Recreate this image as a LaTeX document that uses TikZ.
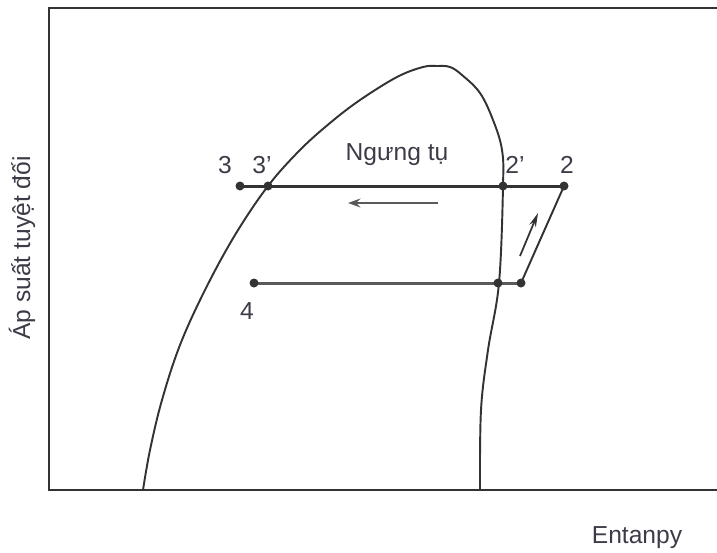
\documentclass[tikz,border=0pt]{standalone}
\usepackage{fontspec}
\setmainfont{Liberation Sans}
\usepackage{xcolor}
\usetikzlibrary{arrows.meta}
\definecolor{PHLine}{HTML}{333333}
\definecolor{PHGrey}{HTML}{5A5A5A}
\definecolor{PHText}{HTML}{3C3C48}
\tikzset{
  phlabel/.style={text=PHText,inner sep=1pt,font=\fontsize{14}{16}\selectfont},
  phdot/.style={fill=PHLine}
}

\begin{document}
\begin{tikzpicture}[x=0.02cm,y=-0.02cm]
\path[use as bounding box] (0,0) rectangle (717,552);
% khung truc
\coordinate (ytop) at (49,8);
\coordinate (orig) at (49,490);
\coordinate (xend) at (717,490);
\coordinate (xtop) at (717,8);
\draw[PHLine,line width=1.6pt] (xtop) -- (ytop) -- (orig) -- (xend);
% duong bao hoa
\draw[PHLine,line width=1.1pt] plot[smooth,tension=0.6] coordinates {
  (143,490) (150,450) (162,400) (180,345) (205,290) (235,235) (268,186)
  (300,150) (330,123) (360,100) (397,77) (423,67) (437,66) (450,67)
  (462,75) (480,93) (493,120) (502,150) (503,187) (499,283) (488,350)
  (481,410) (480,490)};
% cac diem trang thai
\coordinate (p3) at (240,186);
\coordinate (p3s) at (268,186);
\coordinate (p2s) at (503,186);
\coordinate (p2) at (564,186);
\coordinate (p4) at (254,283);
\coordinate (p1s) at (498,283);
\coordinate (p1) at (521,283);
\draw[PHLine,line width=1.7pt] (p3) -- (p2);
\draw[PHGrey,line width=1.7pt] (p4) -- (p1);
\draw[PHLine,line width=1.1pt] (p1) -- (p2);
\foreach \p in {p3,p3s,p2s,p2,p4,p1s,p1}
  \fill[phdot] (\p) circle (0.09cm);
% mui ten
\coordinate (nt1) at (438,203);
\coordinate (nt2) at (348,203);
\draw[PHGrey,line width=1.6pt,-{Stealth[length=7pt,width=5pt]}] (nt1) -- (nt2);
\coordinate (nc1) at (520,256);
\coordinate (nc2) at (538,213);
\draw[PHLine,line width=1pt,-{Stealth[length=8pt,width=4pt]}] (nc1) -- (nc2);
% nhan
\node[phlabel] (l3) at (225,165) {3};
\node[phlabel] (l3s) at (262,165) {3'};
\node[phlabel] (l2s) at (515,165) {2'};
\node[phlabel] (l2) at (567,165) {2};
\node[phlabel] (l4) at (247,311) {4};
\node[phlabel] (lnt) at (397,155) {Ngưng tụ};
\node[phlabel] (lx) at (637,538) {Entanpy};
\node[phlabel,rotate=90] (ly) at (22,248) {Áp suất tuyệt đối};
\end{tikzpicture}
\end{document}
